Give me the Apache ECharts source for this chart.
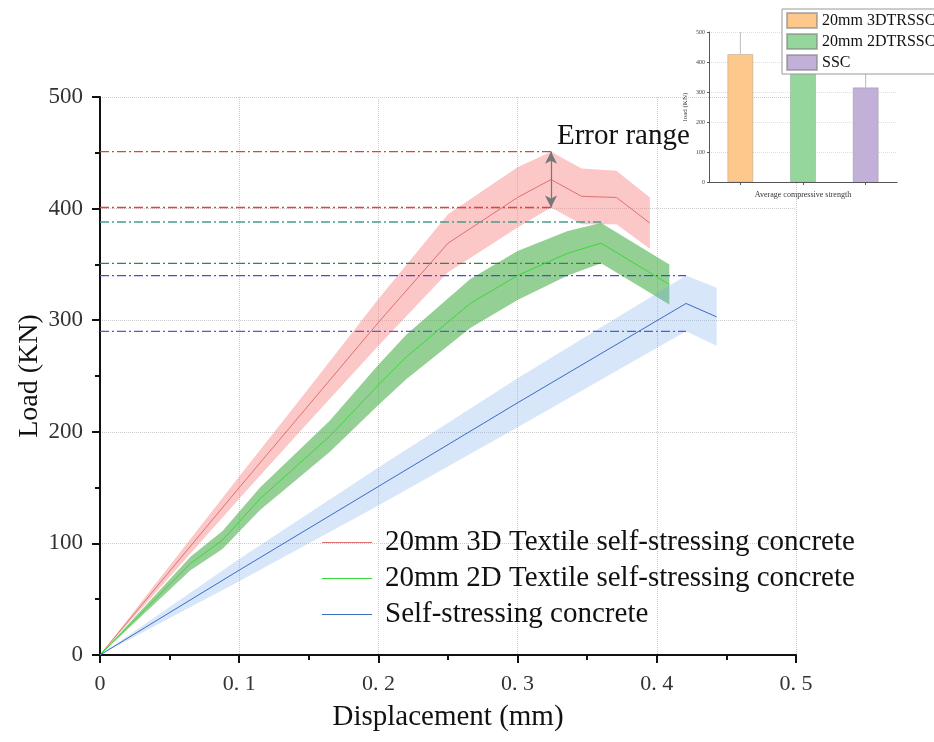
<!DOCTYPE html>
<html>
<head>
<meta charset="utf-8">
<script src="https://cdn.jsdelivr.net/npm/echarts@6/dist/echarts.min.js"></script>
<style>
html,body{margin:0;padding:0;background:#fff;}
#main{width:934px;height:742px;}
</style>
</head>
<body>
<div id="main"></div>
<script>
// 3D textile
var disp3D = [0, 0.05, 0.1, 0.15, 0.2, 0.25, 0.3, 0.324, 0.346, 0.371, 0.395];
var load3D = [0, 75, 150, 224, 298, 369, 410, 426, 411, 410, 387];
var err3D  = [0, 5, 10, 15, 21, 26, 27, 25, 25, 24, 23];
// 2D textile
var disp2D = [0, 0.065, 0.088, 0.115, 0.165, 0.2, 0.22, 0.266, 0.3, 0.336, 0.36, 0.409];
var load2D = [0, 82, 103, 140, 196, 242, 267, 315, 340, 360, 369, 332];
var err2D  = [0, 6, 8, 10, 14, 18, 20, 22, 22, 20, 18, 18];
// SSC
var dispSSC = [0, 0.1, 0.2, 0.3, 0.421, 0.443];
var loadSSC = [0, 76, 151, 226, 315, 303];
var errSSC  = [0, 10, 17, 22, 25, 26];

var seriesNames = ['20mm 3D Textile self-stressing concrete', '20mm 2D Textile self-stressing concrete', 'Self-stressing concrete'];

// dash-dot reference lines (load level, end displacement)
var refLoad = [451, 401, 388, 351, 340, 290];
var refEnd  = [0.324, 0.324, 0.36, 0.36, 0.421, 0.421];
var refColors = ['#e8403a', '#e8403a', '#4a9c8c', '#2e8b3e', '#4848e0', '#5a5ad0'];

// inset bar chart
var barNames = ['20mm 3DTRSSC', '20mm 2DTRSSC', 'SSC'];
var barVals  = [426, 369, 315];
var barErr   = [74, 40, 95];
var barColors = ['#fdc88c', '#94d69b', '#c2b0d8'];

function pairs(xs, ys) {
  return xs.map(function (x, i) { return [x, ys[i]]; });
}
function bandPoly(xs, ys, es) {
  var up = xs.map(function (x, i) { return [x, ys[i] + es[i]]; });
  var lo = xs.map(function (x, i) { return [x, ys[i] - es[i]]; }).reverse();
  return up.concat(lo);
}
function bandSeries(xs, ys, es, fill) {
  var poly = bandPoly(xs, ys, es);
  return {
    type: 'custom',
    xAxisIndex: 0, yAxisIndex: 0,
    data: [[xs[0], ys[0]]],
    silent: true,
    z: 1,
    renderItem: function (params, api) {
      return {
        type: 'polygon',
        shape: { points: poly.map(function (p) { return api.coord(p); }) },
        style: { fill: fill }
      };
    }
  };
}

var myChart = echarts.init(document.getElementById('main'));

var series = [];
series.push(bandSeries(disp3D, load3D, err3D, 'rgba(246,130,130,0.45)'));
series.push(bandSeries(disp2D, load2D, err2D, 'rgba(60,170,60,0.55)'));
series.push(bandSeries(dispSSC, loadSSC, errSSC, 'rgba(110,165,230,0.28)'));

refLoad.forEach(function (v, i) {
  series.push({
    type: 'line', xAxisIndex: 0, yAxisIndex: 0,
    data: [[0, v], [refEnd[i], v]],
    symbol: 'none', silent: true, z: 3,
    lineStyle: { color: refColors[i], width: 1.3, type: [9, 3, 2, 3] }
  });
});

series.push({
  name: seriesNames[0], type: 'line', xAxisIndex: 0, yAxisIndex: 0,
  data: pairs(disp3D, load3D), symbol: 'none', z: 4,
  lineStyle: { color: '#e07070', width: 1 }, itemStyle: { color: '#e07070' },
  markLine: {
    silent: true, symbol: ['arrow', 'arrow'], symbolSize: [9, 12],
    label: { show: false },
    lineStyle: { color: '#777', width: 1.2, type: 'solid' },
    data: [[{ coord: [refEnd[0], refLoad[0]] }, { coord: [refEnd[0], refLoad[1]] }]]
  }
});
series.push({
  name: seriesNames[1], type: 'line', xAxisIndex: 0, yAxisIndex: 0,
  data: pairs(disp2D, load2D), symbol: 'none', z: 4,
  lineStyle: { color: '#3ad83a', width: 1 }, itemStyle: { color: '#3ad83a' }
});
series.push({
  name: seriesNames[2], type: 'line', xAxisIndex: 0, yAxisIndex: 0,
  data: pairs(dispSSC, loadSSC), symbol: 'none', z: 4,
  lineStyle: { color: '#3a6cc8', width: 1 }, itemStyle: { color: '#3a6cc8' }
});

// inset bars, one series per sample so the legend shows three swatches
barNames.forEach(function (n, i) {
  var d = barNames.map(function (_, j) { return j === i ? barVals[i] : '-'; });
  series.push({
    name: n, type: 'bar', xAxisIndex: 1, yAxisIndex: 1, stack: 'inset',
    data: d, barWidth: '41%', z: 2,
    itemStyle: { color: barColors[i], borderColor: 'rgba(120,120,120,0.5)', borderWidth: 0.6 }
  });
});
series.push({
  type: 'custom', xAxisIndex: 1, yAxisIndex: 1, silent: true, z: 1,
  data: barVals.map(function (v, i) { return [i, v, v + barErr[i]]; }),
  renderItem: function (params, api) {
    var a = api.coord([api.value(0), api.value(1)]);
    var b = api.coord([api.value(0), api.value(2)]);
    return {
      type: 'line',
      shape: { x1: a[0], y1: a[1], x2: b[0], y2: b[1] },
      style: { stroke: '#aaa', lineWidth: 0.8 }
    };
  }
});

var option = {
  backgroundColor: '#fff',
  animation: false,
  grid: [
    { left: 100, right: 138, top: 97, bottom: 87 },
    { left: 709, right: 37, top: 32, bottom: 560 }
  ],
  legend: [
    {
      data: seriesNames,
      orient: 'vertical', left: 317, top: 523,
      itemWidth: 50, itemHeight: 14, itemGap: 7,
      icon: 'path://M0,6 L50,6 L50,7 L0,7 Z',
      textStyle: { fontFamily: 'Liberation Serif', fontSize: 29, color: '#111', lineHeight: 29, padding: [0, 0, 0, 8] }
    },
    {
      data: barNames,
      orient: 'vertical', left: 782, top: 9,
      itemWidth: 30, itemHeight: 15, itemGap: 4,
      padding: [3, 20, 3, 4],
      backgroundColor: '#fff', borderColor: '#999', borderWidth: 1,
      icon: 'rect',
      textStyle: { fontFamily: 'Liberation Serif', fontSize: 16, color: '#111' },
      z: 10
    }
  ],
  graphic: [
    {
      type: 'text', left: 557, top: 122, z: 10,
      style: { text: 'Error range', font: '29px "Liberation Serif"', fill: '#111' }
    }
  ],
  xAxis: [
    {
      type: 'value', gridIndex: 0, min: 0, max: 0.5, interval: 0.1,
      name: 'Displacement (mm)', nameLocation: 'middle', nameGap: 48,
      nameTextStyle: { fontFamily: 'Liberation Serif', fontSize: 29, color: '#111' },
      axisLine: { lineStyle: { color: '#111', width: 2 } },
      axisTick: { length: 8, lineStyle: { color: '#111', width: 2 } },
      minorTick: { show: true, splitNumber: 2, length: 5, lineStyle: { color: '#111', width: 2 } },
      axisLabel: {
        margin: 18, fontFamily: 'Liberation Serif', fontSize: 22, color: '#333',
        formatter: function (v) { return v === 0 ? '0' : v.toFixed(1).replace('.', '. '); }
      },
      splitLine: { show: true, lineStyle: { color: '#ccc', type: 'dotted', width: 1 } }
    },
    {
      type: 'category', gridIndex: 1, data: ['', '', ''],
      name: 'Average compressive strength', nameLocation: 'middle', nameGap: 9,
      nameTextStyle: { fontFamily: 'Liberation Serif', fontSize: 8, color: '#333' },
      axisLine: { lineStyle: { color: '#555', width: 1 } },
      axisTick: { show: true, alignWithLabel: true, length: 3, lineStyle: { color: '#555' } },
      axisLabel: { show: false }
    }
  ],
  yAxis: [
    {
      type: 'value', gridIndex: 0, min: 0, max: 500, interval: 100,
      name: 'Load (KN)', nameLocation: 'middle', nameGap: 56, nameMoveOverlap: false,
      nameTextStyle: { fontFamily: 'Liberation Serif', fontSize: 28, color: '#111' },
      axisLine: { show: true, lineStyle: { color: '#111', width: 2 } },
      axisTick: { show: true, length: 8, lineStyle: { color: '#111', width: 2 } },
      minorTick: { show: true, splitNumber: 2, length: 5, lineStyle: { color: '#111', width: 2 } },
      axisLabel: { margin: 17, fontFamily: 'Liberation Serif', fontSize: 23, color: '#333' },
      splitLine: { show: true, lineStyle: { color: '#ccc', type: 'dotted', width: 1 } }
    },
    {
      type: 'value', gridIndex: 1, min: 0, max: 500, interval: 100,
      name: 'load (KN)', nameLocation: 'middle', nameGap: 20,
      nameTextStyle: { fontFamily: 'Liberation Serif', fontSize: 7, color: '#333' },
      axisLine: { show: true, lineStyle: { color: '#555', width: 1 } },
      axisTick: { show: true, length: 2, lineStyle: { color: '#555' } },
      axisLabel: { margin: 4, fontFamily: 'Liberation Serif', fontSize: 6, color: '#444' },
      splitLine: { show: true, lineStyle: { color: '#ddd', type: 'dotted', width: 1 } }
    }
  ],
  series: series
};

myChart.setOption(option);
</script>
</body>
</html>
